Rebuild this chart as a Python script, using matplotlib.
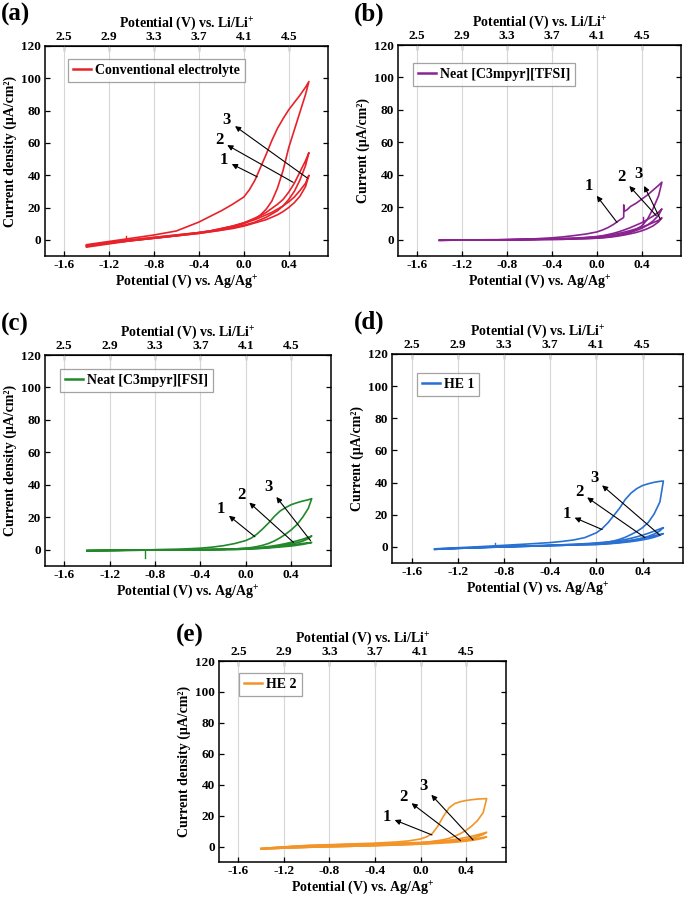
import matplotlib
matplotlib.use("Agg")
import matplotlib.pyplot as plt
from matplotlib.lines import Line2D

plt.rcParams['font.family'] = ['Liberation Serif', 'DejaVu Serif']
plt.rcParams['font.weight'] = 'bold'
plt.rcParams['axes.labelweight'] = 'bold'
plt.rcParams['axes.unicode_minus'] = False
plt.rcParams['mathtext.fontset'] = 'custom'
plt.rcParams['mathtext.rm'] = 'Liberation Serif:bold'
plt.rcParams['mathtext.it'] = 'Liberation Serif:italic:bold'
plt.rcParams['mathtext.bf'] = 'Liberation Serif:bold'

# potential grid of the sweep (V vs Ag/Ag+)
pot = [-1.4, -1.2, -1.0, -0.8, -0.6, -0.4, -0.3, -0.2, -0.1, 0.0, 0.05,
       0.1, 0.15, 0.2, 0.25, 0.3, 0.35, 0.4, 0.45, 0.5, 0.55, 0.58]
li_offset = 4.1  # V vs Li/Li+ = V vs Ag/Ag+ + 4.1
ag_ticks = [-1.6, -1.2, -0.8, -0.4, 0.0, 0.4]
li_ticks = [2.5, 2.9, 3.3, 3.7, 4.1, 4.5]
j_ticks = [0, 20, 40, 60, 80, 100, 120]

# (a) conventional electrolyte
a_c1_fwd = [-4.5, -2.5, -0.5, 1, 2.5, 4.5, 5.5, 6.5, 8, 10, 11.5, 13, 15.5, 19, 24, 32, 43, 57, 68, 79, 90, 98]
a_c1_rev = [-3, -1, 1, 3, 5.5, 11, 14.5, 18, 22, 26.5, 31, 37, 45, 53, 61.5, 69, 75, 80.5, 85, 89.5, 94.5, 98]
a_c2_fwd = [-4, -2, -0.5, 1, 2.5, 4, 5, 6, 7.5, 9, 10, 11, 12.5, 14, 16, 18, 21, 25, 30, 37, 46, 54]
a_c2_rev = [-3.5, -1.5, 0, 1.5, 3, 4.5, 5.5, 7, 8.5, 10.5, 12, 13.5, 15, 17, 19.5, 22, 25, 29.5, 35, 42, 49, 54]
a_c3_fwd = [-4, -2, -0.5, 1, 2.5, 4, 5, 6, 7, 8.5, 9.5, 10.5, 11.5, 12.5, 14, 15.5, 17.5, 20, 23, 27, 33, 40]
a_c3_rev = [-3.5, -1.5, 0, 1.5, 3, 4.5, 5.5, 7, 8.5, 10.5, 11.5, 12.5, 14, 15.5, 17, 19, 21, 23.5, 26.5, 30.5, 35, 40]
a_glitch_x = [-1.05, -1.05]
a_glitch_y = [0.0, 2.5]

# (b) neat [C3mpyr][TFSI]
b_c1_fwd = [-0.3, -0.2, -0.1, 0, 0.2, 0.4, 0.6, 0.8, 1.0, 1.3, 1.6, 2.0, 2.5, 3.2, 4.0, 5.0, 6.5, 8.5, 12.5, 19, 27, 35.5]
b_c1_rev_x = [-1.4, -1.2, -1.0, -0.8, -0.6, -0.4, -0.3, -0.2, -0.1, 0.0, 0.05, 0.1, 0.15, 0.2, 0.235,
              0.24, 0.24, 0.245, 0.27, 0.3, 0.35, 0.4, 0.45, 0.5, 0.55, 0.58]
b_c1_rev_y = [-0.3, -0.2, 0, 0.1, 0.4, 1.2, 1.8, 2.6, 3.5, 4.8, 6, 7.5, 9.5, 12, 13.5,
              14, 21.5, 17.5, 18.5, 20.5, 22.5, 25, 27.5, 30.5, 33.5, 35.5]
b_c2_fwd = [-0.3, -0.2, -0.1, 0, 0.1, 0.2, 0.3, 0.5, 0.7, 1.0, 1.3, 1.7, 2.2, 2.8, 3.6, 4.5, 5.7, 7, 9, 11.5, 15, 19]
b_c2_rev = [-0.3, -0.2, -0.1, 0, 0.2, 0.5, 0.7, 1.0, 1.4, 2.0, 2.5, 3.2, 4.0, 5.0, 6.2, 7.5, 9.0, 10.5, 12.5, 14.5, 17, 19]
b_c3_fwd = [-0.3, -0.2, -0.1, 0, 0.1, 0.2, 0.3, 0.5, 0.7, 1.0, 1.2, 1.5, 1.9, 2.4, 3.0, 3.7, 4.5, 5.5, 6.8, 8.5, 11, 13.5]
b_c3_rev = [-0.3, -0.2, -0.1, 0, 0.2, 0.5, 0.7, 0.9, 1.3, 1.8, 2.2, 2.7, 3.3, 4.0, 4.8, 5.7, 6.7, 7.8, 9.0, 10.5, 12, 13.5]
b_glitch_x = [0.41, 0.41]
b_glitch_y = [9.5, 14.0]

# (c) neat [C3mpyr][FSI]
c_c1_fwd = [-0.6, -0.4, -0.3, -0.2, -0.1, 0, 0.1, 0.3, 0.5, 1.0, 1.4, 2.0, 2.8, 3.9, 5.4, 7.3, 9.6, 12.3, 15.5, 20, 25.5, 31.5]
c_c1_rev = [-0.5, -0.4, -0.2, 0, 0.3, 1.0, 1.6, 2.5, 3.8, 5.7, 7.3, 9.8, 13, 16.5, 20.5, 23.8, 26, 27.8, 29, 30, 30.8, 31.5]
c_c2_fwd = [-0.6, -0.4, -0.3, -0.2, -0.1, 0, 0.05, 0.1, 0.2, 0.4, 0.6, 0.8, 1.1, 1.4, 1.8, 2.3, 2.9, 3.5, 4.3, 5.3, 6.8, 8.5]
c_c2_rev = [-0.5, -0.4, -0.2, 0, 0.05, 0.1, 0.2, 0.3, 0.5, 0.8, 1.0, 1.3, 1.6, 2.0, 2.5, 3.1, 3.8, 4.6, 5.5, 6.5, 7.7, 8.5]
c_c3_fwd = [-0.6, -0.4, -0.3, -0.2, -0.1, 0, 0.05, 0.1, 0.2, 0.4, 0.5, 0.7, 0.9, 1.1, 1.4, 1.7, 2.0, 2.3, 2.8, 3.3, 4.0, 4.5]
c_c3_rev = [-0.5, -0.4, -0.2, 0, 0.05, 0.1, 0.2, 0.3, 0.5, 0.7, 0.9, 1.1, 1.3, 1.6, 1.9, 2.2, 2.6, 3.0, 3.4, 3.9, 4.3, 4.5]
c_glitch_x = [-0.89, -0.89]
c_glitch_y = [0.0, -4.8]

# (d) HE 1
d_c1_fwd = [-1.5, -0.9, -0.4, 0, 0.4, 0.8, 1.0, 1.3, 1.6, 2.1, 2.5, 3.0, 3.7, 4.7, 6.0, 7.7, 9.6, 12, 15.3, 20.5, 28, 41]
d_c1_rev = [-1.2, -0.5, 0.2, 1.0, 1.8, 2.7, 3.4, 4.3, 5.8, 8.8, 11.4, 15, 19.5, 24, 29.5, 33.5, 36.3, 38.2, 39.3, 40.2, 40.8, 41]
d_c2_fwd = [-1.5, -0.9, -0.4, 0, 0.4, 0.8, 1.0, 1.2, 1.4, 1.6, 1.8, 2.1, 2.4, 2.8, 3.3, 3.9, 4.6, 5.5, 6.6, 8, 10, 12]
d_c2_rev = [-1.3, -0.8, -0.3, 0.2, 0.6, 1.0, 1.3, 1.6, 2.0, 2.5, 2.8, 3.1, 3.5, 4.0, 4.6, 5.4, 6.3, 7.3, 8.5, 9.8, 11.2, 12]
d_c3_fwd = [-1.5, -0.9, -0.4, 0, 0.4, 0.8, 1.0, 1.2, 1.3, 1.5, 1.7, 1.9, 2.2, 2.5, 2.9, 3.3, 3.8, 4.4, 5.1, 6.0, 7.2, 8.3]
d_c3_rev = [-1.3, -0.8, -0.3, 0.2, 0.6, 1.0, 1.3, 1.5, 1.8, 2.1, 2.3, 2.6, 2.9, 3.3, 3.7, 4.2, 4.8, 5.5, 6.2, 7.0, 7.8, 8.3]
d_glitch_x = [-0.88, -0.88]
d_glitch_y = [0.5, 2.5]

# (e) HE 2
e_c1_fwd = [-1.6, -1.0, -0.5, -0.1, 0.2, 0.7, 1.0, 1.3, 1.8, 2.4, 2.8, 3.3, 3.8, 4.4, 5.3, 6.7, 8.4, 10.5, 13.3, 16.8, 22, 31]
e_c1_rev = [-1.3, -0.2, 0.7, 1.2, 1.7, 2.2, 2.6, 3.0, 3.7, 4.9, 6.2, 8.2, 13, 19.5, 25, 27.8, 29, 29.8, 30.3, 30.7, 30.9, 31]
e_c2_fwd = [-1.6, -1.0, -0.5, -0.1, 0.2, 0.6, 0.8, 1.0, 1.3, 1.7, 1.9, 2.1, 2.4, 2.7, 3.1, 3.5, 4.0, 4.6, 5.4, 6.4, 7.8, 9.2]
e_c2_rev = [-1.3, -0.3, 0.5, 1.0, 1.4, 1.8, 2.0, 2.2, 2.4, 2.7, 2.9, 3.1, 3.4, 3.7, 4.1, 4.6, 5.2, 5.9, 6.7, 7.6, 8.6, 9.2]
e_c3_fwd = [-1.6, -1.0, -0.5, -0.1, 0.2, 0.6, 0.8, 1.0, 1.3, 1.5, 1.7, 1.9, 2.1, 2.3, 2.5, 2.8, 3.1, 3.5, 4.0, 4.6, 5.4, 6.2]
e_c3_rev = [-1.2, -0.3, 0.5, 0.9, 1.3, 1.7, 1.8, 2.0, 2.2, 2.4, 2.5, 2.7, 2.9, 3.1, 3.3, 3.6, 4.0, 4.4, 4.8, 5.3, 5.9, 6.2]

# cycle labels: (text, label position, arrow tail on the curve)
a_marks = [('1', (-0.18, 49.5), (0.12, 39)), ('2', (-0.22, 61.5), (0.44, 35.6)), ('3', (-0.15, 74), (0.565, 38.3))]
b_marks = [('1', (-0.07, 33.4), (0.18, 10.7)), ('2', (0.22, 38.5), (0.53, 14.8)), ('3', (0.37, 40.6), (0.565, 12.8))]
c_marks = [('1', (-0.22, 25), (0.08, 8)), ('2', (-0.04, 33.5), (0.42, 4.5)), ('3', (0.2, 38.7), (0.57, 5.6))]
d_marks = [('1', (-0.26, 20.4), (0.05, 10.8)), ('2', (-0.15, 34.3), (0.42, 5.8)), ('3', (-0.02, 42.6), (0.55, 7.3))]
e_marks = [('1', (-0.3, 19.3), (0.1, 7.5)), ('2', (-0.15, 32), (0.35, 3.9)), ('3', (0.025, 39), (0.46, 4.3))]

W, H = 685, 898
fig = plt.figure(figsize=(W / 100, H / 100), dpi=100)


def px_rect(l, t, r, b):
    return [l / W, 1 - b / H, (r - l) / W, (b - t) / H]


def draw_panel(rect, letter, letter_xy, color, cycles, glitches, marks,
               legend_label, legend_xy, ylabel):
    ax = fig.add_axes(px_rect(*rect))
    for fx, fy, rx, ry in cycles:
        ax.plot(list(fx) + list(rx)[::-1], list(fy) + list(ry)[::-1],
                color=color, lw=1.2, solid_joinstyle='round')
    for gx, gy in glitches:
        ax.plot(gx, gy, color=color, lw=1.0)
    for txt, lxy, tail in marks:
        ax.annotate(txt, xy=tail, xytext=lxy, ha='center', va='center',
                    fontsize=12, fontweight='bold',
                    arrowprops=dict(arrowstyle='<|-', color='black', lw=0.8,
                                    mutation_scale=8, shrinkA=1, shrinkB=0))
    ax.set_xlim(-1.77, 0.75)
    ax.set_ylim(-10, 120)
    ax.set_xticks(ag_ticks)
    ax.set_xticklabels([f'{v:.1f}' for v in ag_ticks])
    ax.set_yticks(j_ticks)
    ax.grid(axis='x', color='#d6d6d6', lw=0.8)
    ax.set_axisbelow(True)
    ax.tick_params(direction='in', length=3.5, width=0.9, labelsize=9.5,
                   right=True, pad=3)
    ax.tick_params(axis='x', pad=2)
    for s in ax.spines.values():
        s.set_linewidth(1.1)
    ax.set_xlabel('Potential (V) vs. Ag/Ag$^{+}$', fontsize=10, labelpad=1)
    ax.set_ylabel(ylabel, fontsize=10, labelpad=3)
    sec = ax.secondary_xaxis('top', functions=(lambda v: v + li_offset,
                                               lambda v: v - li_offset))
    sec.set_xticks(li_ticks)
    sec.set_xticklabels([f'{v:.1f}' for v in li_ticks])
    sec.tick_params(direction='in', length=3.5, width=0.9, labelsize=9.5, pad=2)
    sec.set_xlabel('Potential (V) vs. Li/Li$^{+}$', fontsize=10, labelpad=3)
    handle = Line2D([], [], color=color, lw=1.8)
    leg = ax.legend([handle], [legend_label], loc='upper left',
                    bbox_to_anchor=legend_xy, frameon=True, fancybox=False,
                    edgecolor='#8c8c8c', borderpad=0.35, handlelength=1.3,
                    handletextpad=0.3, borderaxespad=0,
                    prop={'weight': 'bold', 'size': 10})
    leg.get_frame().set_linewidth(0.9)
    fig.text(letter_xy[0] / W, 1 - letter_xy[1] / H, letter, fontsize=18,
             fontweight='bold', ha='left', va='center')
    return ax


cd_label = 'Current density (μA/cm²)'
c_label = 'Current (μA/cm²)'

draw_panel((45, 46, 328, 256), '(a)', (1, 14), '#e8222a',
           [(pot, a_c1_fwd, pot, a_c1_rev), (pot, a_c2_fwd, pot, a_c2_rev),
            (pot, a_c3_fwd, pot, a_c3_rev)],
           [(a_glitch_x, a_glitch_y)], a_marks,
           'Conventional electrolyte', (0.081, 0.938), cd_label)

draw_panel((398, 45, 681, 256), '(b)', (354, 14), '#8a2390',
           [(pot, b_c1_fwd, b_c1_rev_x, b_c1_rev_y), (pot, b_c2_fwd, pot, b_c2_rev),
            (pot, b_c3_fwd, pot, b_c3_rev)],
           [(b_glitch_x, b_glitch_y)], b_marks,
           'Neat [C3mpyr][TFSI]', (0.053, 0.915), c_label)

draw_panel((45, 355, 331, 566), '(c)', (1, 324), '#23882a',
           [(pot, c_c1_fwd, pot, c_c1_rev), (pot, c_c2_fwd, pot, c_c2_rev),
            (pot, c_c3_fwd, pot, c_c3_rev)],
           [(c_glitch_x, c_glitch_y)], c_marks,
           'Neat [C3mpyr][FSI]', (0.052, 0.934), cd_label)

draw_panel((392, 354, 683, 563), '(d)', (354, 322), '#2870d2',
           [(pot, d_c1_fwd, pot, d_c1_rev), (pot, d_c2_fwd, pot, d_c2_rev),
            (pot, d_c3_fwd, pot, d_c3_rev)],
           [(d_glitch_x, d_glitch_y)], d_marks,
           'HE 1', (0.086, 0.909), c_label)

draw_panel((219, 661, 506, 862), '(e)', (176, 635), '#f39428',
           [(pot, e_c1_fwd, pot, e_c1_rev), (pot, e_c2_fwd, pot, e_c2_rev),
            (pot, e_c3_fwd, pot, e_c3_rev)],
           [], e_marks,
           'HE 2', (0.07, 0.94), cd_label)

fig.savefig('out.png', dpi=100)
